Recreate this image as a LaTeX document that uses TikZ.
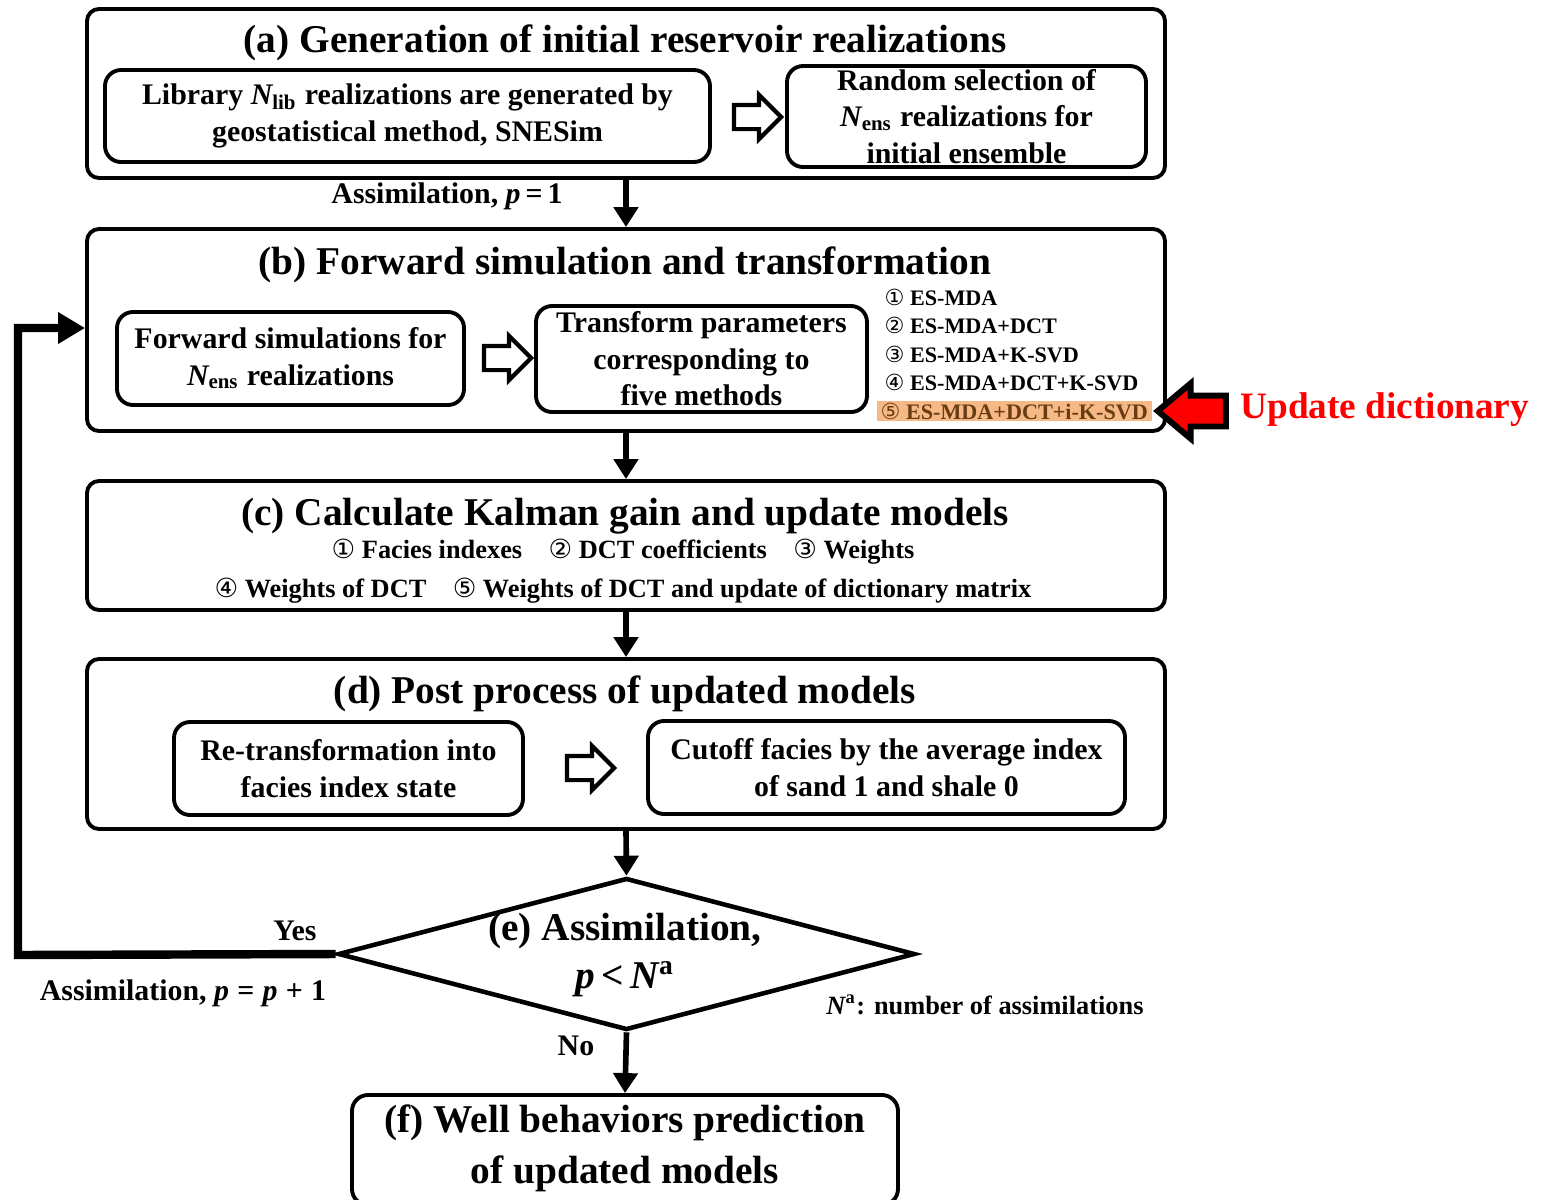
\documentclass[tikz,border=0pt]{standalone}
\usepackage{fontspec}
\setmainfont{Liberation Serif}
\newfontfamily\circfont{DejaVu Sans}
\usetikzlibrary{shapes.geometric,shapes.arrows,arrows.meta}

\definecolor{hlorange}{RGB}{246,184,132}
\definecolor{hlbrown}{RGB}{105,60,20}
\newcommand{\cnum}[1]{{\circfont\mdseries #1}}
\newcommand{\titlefont}{\fontsize{11.2}{13.6}\selectfont\bfseries}
\newcommand{\bodyfont}{\fontsize{8.5}{10.4}\selectfont\bfseries}
\newcommand{\midfont}{\fontsize{7.5}{9}\selectfont\bfseries}
\newcommand{\listfont}{\fontsize{6.3}{8}\selectfont\bfseries}

\tikzset{
	outerbox/.style={draw, line width=1.1pt, rounded corners=0.12cm, inner sep=0pt},
	innerbox/.style={draw, line width=1.1pt, rounded corners=0.16cm, inner sep=0pt, align=center, font=\bodyfont},
	flow/.style={-{Triangle[length=0.2cm,width=0.24cm]}, line width=1.6pt},
	loopline/.style={-{Triangle[length=0.27cm,width=0.3cm]}, line width=2.4pt},
	hollow/.style={single arrow, draw, line width=1.2pt, inner xsep=0pt, inner ysep=0.1cm, single arrow head extend=0.1cm, minimum height=0.47cm},
	listitem/.style={anchor=west, font=\listfont, inner xsep=0.04cm, inner ysep=0.02cm}
}

\begin{document}
\begin{tikzpicture}
	\useasboundingbox (0,0) rectangle (15.43,-12);

	% (a)
	\node[outerbox, minimum width=10.78cm, minimum height=1.69cm] (boxa) at (6.26,-0.935) {};
	\node[font=\titlefont] (titlea) at (6.25,-0.43) {(a) Generation of initial reservoir realizations};
	\node[innerbox, minimum width=6.05cm, minimum height=0.92cm] (lib) at (4.075,-1.16) {Library {\itshape N}\textsubscript{lib} realizations are generated by\\ geostatistical method, SNESim};
	\node[hollow] (ha1) at (7.515,-1.17) {};
	\node[innerbox, minimum width=3.59cm, minimum height=1.01cm] (sel) at (9.665,-1.165) {Random selection of\\ {\itshape N}\textsubscript{ens} realizations for\\ initial ensemble};
	\node[font=\bodyfont] (pone) at (4.47,-1.96) {Assimilation, {\itshape p}\,=\,1};

	% (b)
	\node[outerbox, minimum width=10.78cm, minimum height=2.02cm] (boxb) at (6.26,-3.30) {};
	\node[font=\titlefont] (titleb) at (6.25,-2.65) {(b) Forward simulation and transformation};
	\node[innerbox, minimum width=3.47cm, minimum height=0.93cm] (fwd) at (2.905,-3.585) {Forward simulations for\\ {\itshape N}\textsubscript{ens} realizations};
	\node[hollow] (ha2) at (5.015,-3.58) {};
	\node[innerbox, minimum width=3.31cm, minimum height=1.06cm] (trans) at (7.015,-3.59) {Transform parameters\\ corresponding to\\ five methods};
	\node[listitem] (m1) at (8.80,-2.97) {\cnum{①} ES-MDA};
	\node[listitem] (m2) at (8.80,-3.25) {\cnum{②} ES-MDA+DCT};
	\node[listitem] (m3) at (8.80,-3.54) {\cnum{③} ES-MDA+K-SVD};
	\node[listitem] (m4) at (8.80,-3.82) {\cnum{④} ES-MDA+DCT+K-SVD};
	\node[listitem, fill=hlorange, text=hlbrown] (m5) at (8.76,-4.11) {\cnum{⑤} ES-MDA+DCT+i-K-SVD};
	\node[single arrow, draw, fill=red, line width=1.7pt, shape border rotate=180, inner xsep=0pt, inner ysep=0.125cm, single arrow head extend=0.12cm, single arrow tip angle=80, minimum height=0.68cm] (upd) at (12.01,-4.11) {};
	\node[anchor=west, font=\fontsize{10.6}{12}\selectfont\bfseries, text=red] (updtext) at (12.28,-4.10) {Update dictionary};

	% (c)
	\node[outerbox, minimum width=10.78cm, minimum height=1.29cm] (boxc) at (6.26,-5.455) {};
	\node[font=\titlefont] (titlec) at (6.25,-5.16) {(c) Calculate Kalman gain and update models};
	\node[font=\midfont] (cline1) at (6.23,-5.52) {\cnum{①} Facies indexes\quad \cnum{②} DCT coefficients\quad \cnum{③} Weights};
	\node[font=\midfont] (cline2) at (6.23,-5.91) {\cnum{④} Weights of DCT\quad \cnum{⑤} Weights of DCT and update of dictionary matrix};

	% (d)
	\node[outerbox, minimum width=10.78cm, minimum height=1.70cm] (boxd) at (6.26,-7.44) {};
	\node[font=\titlefont] (titled) at (6.25,-6.94) {(d) Post process of updated models};
	\node[innerbox, minimum width=3.49cm, minimum height=0.93cm] (retr) at (3.485,-7.685) {Re-transformation into\\ facies index state};
	\node[hollow] (ha3) at (5.845,-7.68) {};
	\node[innerbox, minimum width=4.77cm, minimum height=0.93cm] (cut) at (8.865,-7.675) {Cutoff facies by the average index\\ of sand 1 and shale 0};

	% (e)
	\node[diamond, draw, line width=1.3pt, inner sep=0pt, minimum width=5.77cm, minimum height=1.52cm] (dia) at (6.265,-9.54) {};
	\node[font=\titlefont, align=center] (dtext) at (6.25,-9.55) {(e) Assimilation,\\ {\itshape p}\,<\,{\itshape N}\textsuperscript{a}};
	\node[font=\bodyfont] (yes) at (2.95,-9.31) {Yes};
	\node[font=\bodyfont] (pnext) at (1.83,-9.93) {Assimilation, {\itshape p}\;=\;{\itshape p}\;+\;1};
	\node[font=\midfont] (nadef) at (9.85,-10.05) {{\itshape N}\textsuperscript{a}: number of assimilations};
	\node[font=\bodyfont] (no) at (5.76,-10.46) {No};

	% (f)
	\node[outerbox, rounded corners=0.16cm, minimum width=5.46cm, minimum height=1.10cm] (boxf) at (6.25,-11.50) {};
	\node[font=\titlefont, align=center] (ftext) at (6.25,-11.48) {(f) Well behaviors prediction\\[1pt] of updated models};

	\coordinate (loopa) at (0.18,-9.55);
	\coordinate (loopb) at (0.18,-3.28);

	\draw[flow] (boxa.south) -- (boxb.north);
	\draw[flow] (boxb.south) -- (boxc.north);
	\draw[flow] (boxc.south) -- (boxd.north);
	\draw[flow] (boxd.south) -- (dia.north);
	\draw[flow] (dia.south) -- (boxf.north);
	\draw[loopline] (dia.west) -- (loopa) -- (loopb) -- (loopb -| boxb.west);
\end{tikzpicture}
\end{document}
